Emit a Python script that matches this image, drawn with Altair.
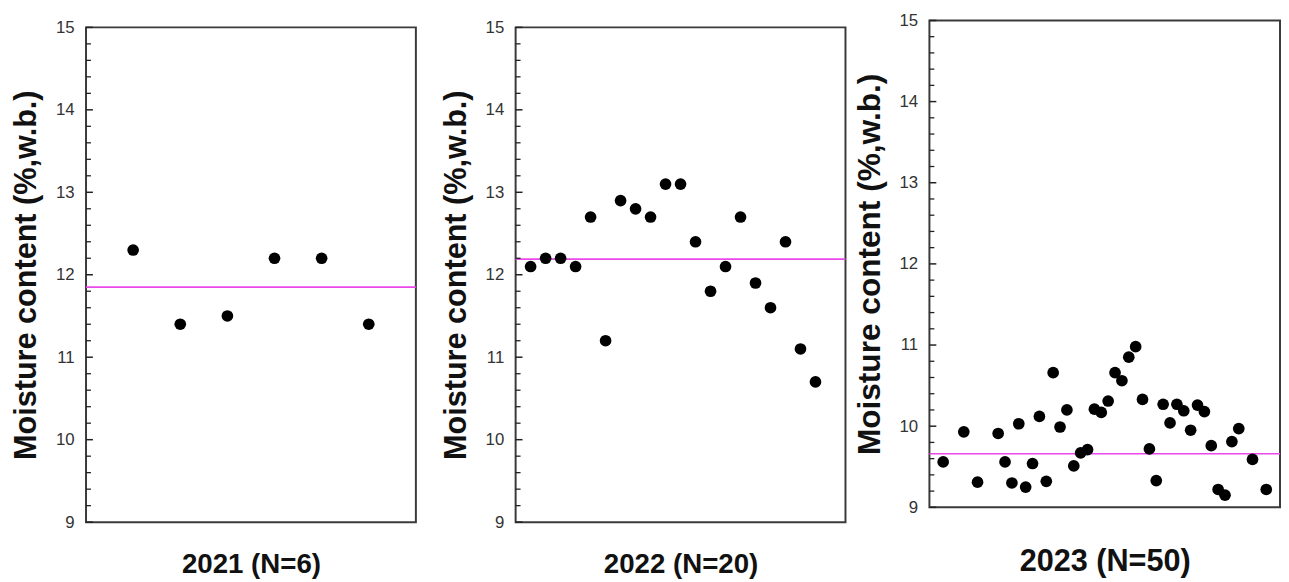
import altair as alt
import pandas as pd

# ---- data ----
X21 = [1, 2, 3, 4, 5, 6]
MC21 = [12.3, 11.4, 11.5, 12.2, 12.2, 11.4]

X22 = [1, 2, 3, 4, 5, 6, 7, 8, 9, 10, 11, 12, 13, 14, 15, 16, 17, 18, 19, 20]
MC22 = [12.1, 12.2, 12.2, 12.1, 12.7, 11.2, 12.9, 12.8, 12.7, 13.1,
        13.1, 12.4, 11.8, 12.1, 12.7, 11.9, 11.6, 12.4, 11.1, 10.7]

X23 = [2, 5, 7, 10, 11, 12, 13, 14, 15, 16, 17, 18, 19, 20, 21, 22, 23, 24, 25, 26,
       27, 28, 29, 30, 31, 32, 33, 34, 35, 36, 37, 38, 39, 40, 41, 42, 43, 44, 45, 47, 49]
MC23 = [9.56, 9.93, 9.31, 9.91, 9.56, 9.30, 10.03, 9.25, 9.54, 10.12,
        9.32, 10.66, 9.99, 10.20, 9.51, 9.67, 9.71, 10.21, 10.17, 10.31,
        10.66, 10.56, 10.85, 10.98, 10.33, 9.72, 9.33, 10.27, 10.04, 10.27,
        10.19, 9.95, 10.26, 10.18, 9.76, 9.22, 9.15, 9.81, 9.97, 9.59, 9.22]

MEANS = [11.85, 12.19, 9.66]
TITLES = ["2021 (N=6)", "2022 (N=20)", "2023 (N=50)"]
XDOMAINS = [[0, 7], [0, 22], [0, 51]]
YDOMAIN = [9, 15]
Y_TITLE = "Moisture content (%,w.b.)"
MAJOR_TICKS = [9, 10, 11, 12, 13, 14, 15]
MINOR_TICKS = [9.2, 9.4, 9.6, 9.8, 10.2, 10.4, 10.6, 10.8, 11.2, 11.4, 11.6, 11.8,
               12.2, 12.4, 12.6, 12.8, 13.2, 13.4, 13.6, 13.8, 14.2, 14.4, 14.6, 14.8]

FONT = "Liberation Sans"
MAGENTA = "#ea48ea"
FRAME = "#3a3a3a"


def panel(xs, ys, mean, title, xdom, width, height, top_gap, xfont, yfont, xpad):
    df = pd.DataFrame({"x": xs, "mc": ys})
    yscale = alt.Scale(domain=YDOMAIN, nice=False, zero=False, range=[height, top_gap])
    xscale = alt.Scale(domain=xdom, nice=False, zero=False)
    yaxis = alt.Axis(title=Y_TITLE, values=MAJOR_TICKS, ticks=False,
                     domain=False, grid=False, labelFontSize=17,
                     labelFont=FONT, labelColor="#333", labelPadding=12,
                     titleFontSize=yfont, titleFontWeight="bold", titleFont=FONT,
                     titleColor="#111", titlePadding=13)
    xaxis = alt.Axis(title=title, labels=False, ticks=False, domain=False,
                     grid=False, titleFontSize=xfont, titleFontWeight="bold",
                     titleFont=FONT, titleColor="#111", titlePadding=xpad)

    frame_df = pd.DataFrame({"x0": [xdom[0]], "x1": [xdom[1]],
                             "y0": [YDOMAIN[0]], "y1": [YDOMAIN[1]]})
    frame = alt.Chart(frame_df).mark_rect(
        filled=False, stroke=FRAME, strokeWidth=2).encode(
        x=alt.X("x0:Q", scale=xscale, axis=xaxis), x2="x1:Q",
        y=alt.Y("y0:Q", scale=yscale, axis=yaxis), y2="y1:Q")

    pts = alt.Chart(df).mark_circle(size=140, color="black", opacity=1).encode(
        x=alt.X("x:Q", scale=xscale, axis=xaxis),
        y=alt.Y("mc:Q", scale=yscale, axis=yaxis),
    )

    major = alt.Chart(pd.DataFrame({"t": MAJOR_TICKS})).mark_tick(
        orient="horizontal", size=7, thickness=1.5, color="#222", opacity=1).encode(
        y=alt.Y("t:Q", scale=yscale, axis=yaxis), x=alt.value(3.5))
    minor = alt.Chart(pd.DataFrame({"t": MINOR_TICKS})).mark_tick(
        orient="horizontal", size=5, thickness=1.3, color="#222", opacity=1).encode(
        y=alt.Y("t:Q", scale=yscale, axis=yaxis), x=alt.value(2.5))

    mline = alt.Chart(pd.DataFrame({"m": [mean]})).mark_rule(
        color=MAGENTA, strokeWidth=1.6).encode(y=alt.Y("m:Q", scale=yscale, axis=yaxis))

    return alt.layer(frame, mline, pts, major, minor).properties(
        width=width, height=height)


p1 = panel(X21, MC21, MEANS[0], TITLES[0], XDOMAINS[0], 334, 508, 7, 28, 31, 29)
p2 = panel(X22, MC22, MEANS[1], TITLES[1], XDOMAINS[1], 334, 508, 7, 28, 31, 29)
p3 = panel(X23, MC23, MEANS[2], TITLES[2], XDOMAINS[2], 355, 493, 0, 31, 32, 40)

chart = alt.hconcat(alt.hconcat(p1, p2, spacing=24), p3, spacing=7).properties(
    padding={"left": 3, "top": 0, "right": 0, "bottom": 0}).configure_view(strokeWidth=0)

chart.save("out.html", embed_options={"renderer": "svg", "actions": False})
